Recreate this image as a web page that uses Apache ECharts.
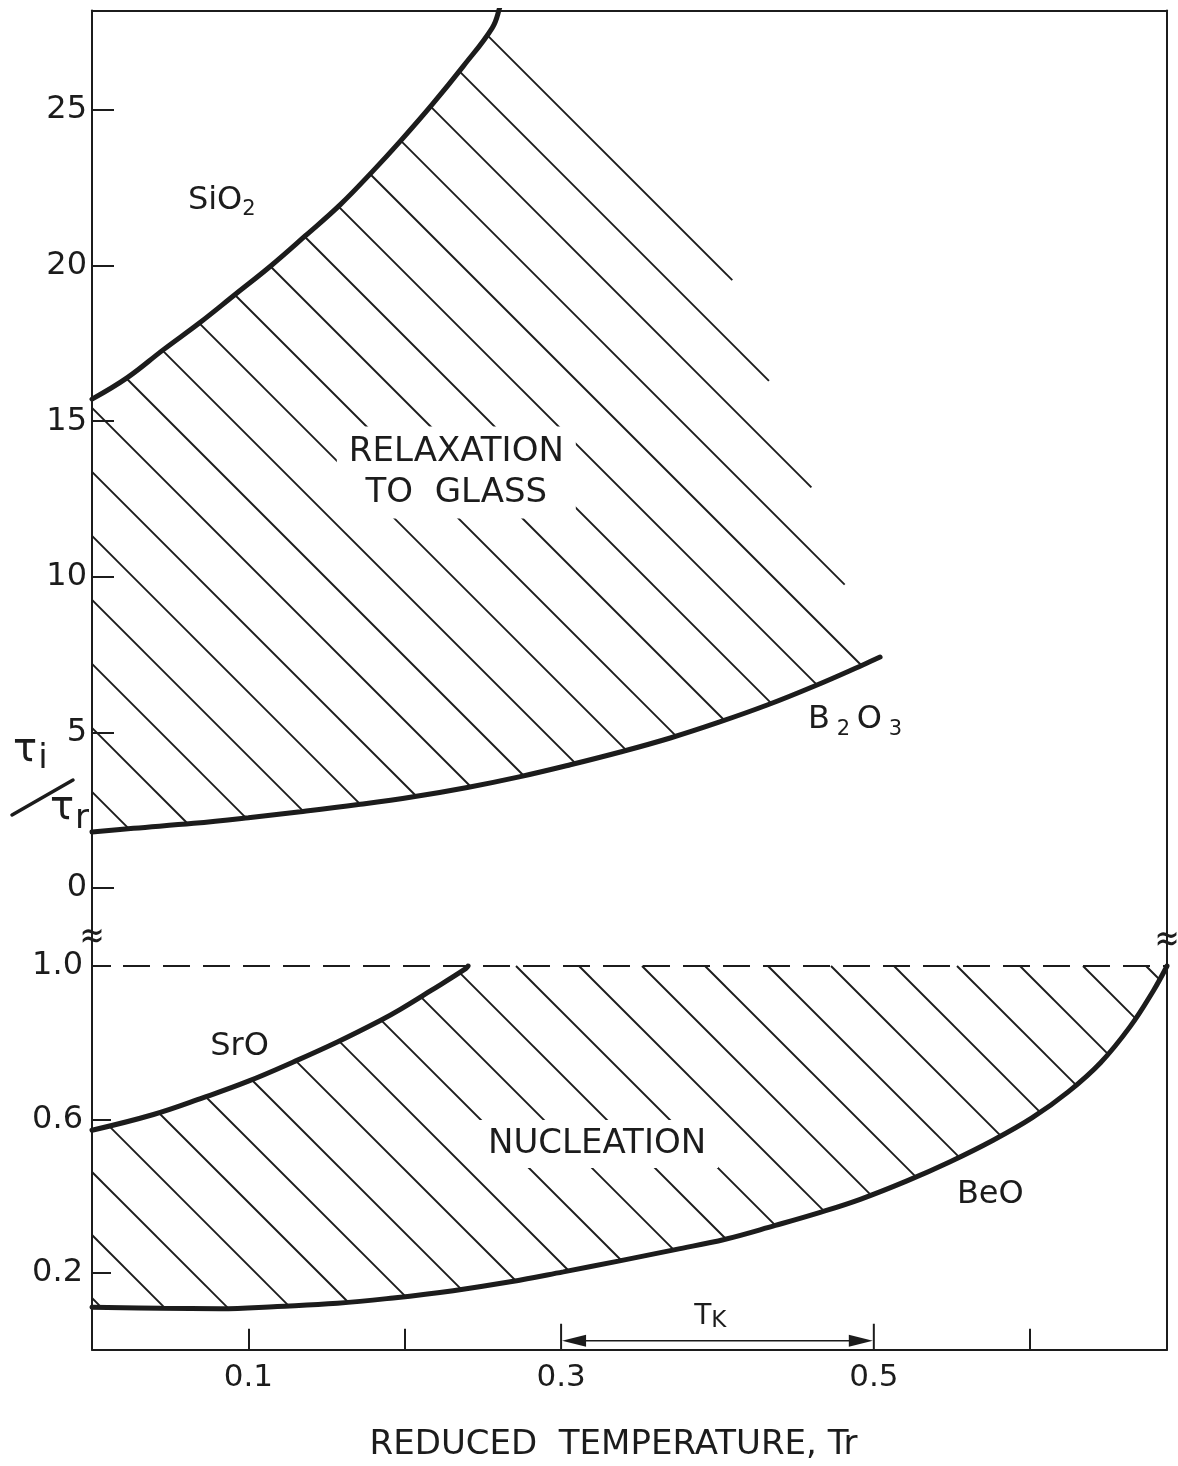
<!DOCTYPE html>
<html><head><meta charset="utf-8">
<script src="https://cdn.jsdelivr.net/npm/echarts@6/dist/echarts.min.js"></script>
<style>html,body{margin:0;padding:0;background:#fff}#c{width:1178px;height:1466px}</style>
</head><body><div id="c"></div>
<script>
// ---------- values ----------
// upper panel: tau_i / tau_r vs reduced temperature
const sio2 = [[0,15.71],[0.0226,16.40],[0.0457,17.30],[0.0693,18.18],[0.0917,19.08],[0.1141,19.98],[0.1365,20.96],[0.1588,21.96],[0.1793,23.02],[0.1972,24.00],[0.2176,25.18],[0.2375,26.41],[0.256,27.64],[0.2605,28.25],[0.263,28.8]];
const b2o3 = [[0,1.80],[0.0265,1.92],[0.065,2.08],[0.100,2.26],[0.1333,2.45],[0.1703,2.68],[0.2055,2.93],[0.24,3.23],[0.2739,3.58],[0.3059,3.96],[0.3379,4.37],[0.3698,4.82],[0.4005,5.32],[0.4318,5.88],[0.4625,6.50],[0.4926,7.16],[0.504,7.42]];
// where the hatching of the "relaxation to glass" field stops on the right
const glassHatchEnd = [[0.4069,19.89],[0.4306,16.59],[0.4606,12.81],[0.4817,9.70]];
// lower panel
const sro = [[0,0.572],[0.0393,0.613],[0.0712,0.657],[0.100,0.700],[0.1288,0.750],[0.1569,0.802],[0.1844,0.858],[0.1972,0.887],[0.2164,0.935],[0.239,0.993],[0.2405,1.0]];
const beo = [[0,0.111],[0.044,0.108],[0.082,0.107],[0.1185,0.113],[0.157,0.121],[0.1926,0.135],[0.231,0.154],[0.2675,0.177],[0.3014,0.203],[0.3366,0.231],[0.373,0.261],[0.405,0.288],[0.437,0.324],[0.4657,0.358],[0.4913,0.392],[0.5212,0.440],[0.5488,0.490],[0.5763,0.546],[0.6011,0.604],[0.6243,0.672],[0.645,0.748],[0.6639,0.842],[0.6787,0.935],[0.6875,1.0]];
const tauLimit = 1.0;
const tkRange = [0.3, 0.5];
const xMax = 0.6875;
const xTickValues = [0.1, 0.2, 0.6];
const xLabelValues = [0.1, 0.3, 0.5];
const upperTickValues = [0, 5, 10, 15, 20, 25];
const lowerTickValues = [0.2, 0.6, 1.0];
// a point each hatch family passes through
const glassHatchAnchor = [0, 13.37];
const nucleationHatchAnchor = [0, 0.299];

// ---------- styling ----------
const FONT = 'DejaVu Sans';
const INK = '#1c1c1c';
const GL = 92, GW = 1075;
const UP_TOP = 10.4, UP_H = 927.4, LO_TOP = 937.8, LO_H = 411.95;

const chart = echarts.init(document.getElementById('c'), null, {renderer: 'canvas', width: 1178, height: 1466});

function hatch(xi, yi, poly, anchor, spacing) {
  return {
    type: 'custom', xAxisIndex: xi, yAxisIndex: yi, z: 1, silent: true, clip: false,
    data: [anchor],
    renderItem: function (params, api) {
      const P = poly.map(p => api.coord(p));
      const a = api.coord(anchor);
      const c0 = a[1] - a[0];
      let lo = Infinity, hi = -Infinity;
      P.forEach(p => { const c = p[1] - p[0]; if (c < lo) lo = c; if (c > hi) hi = c; });
      const children = [];
      for (let k = Math.ceil((lo - c0) / spacing); k <= Math.floor((hi - c0) / spacing); k++) {
        const c = c0 + k * spacing;
        const xs = [];
        for (let i = 0; i < P.length; i++) {
          const p = P[i], q = P[(i + 1) % P.length];
          const fp = p[1] - p[0] - c, fq = q[1] - q[0] - c;
          if ((fp > 0) !== (fq > 0)) { const t = fp / (fp - fq); xs.push(p[0] + t * (q[0] - p[0])); }
        }
        xs.sort((m, n) => m - n);
        for (let j = 0; j + 1 < xs.length; j += 2) {
          children.push({type: 'line', shape: {x1: xs[j], y1: xs[j] + c, x2: xs[j + 1], y2: xs[j + 1] + c},
            style: {stroke: INK, lineWidth: 1.9}});
        }
      }
      return {type: 'group', children: children};
    }
  };
}

function curve(xi, yi, data) {
  return {type: 'line', xAxisIndex: xi, yAxisIndex: yi, data: data, smooth: 0.4,
    showSymbol: false, silent: true, z: 3, lineStyle: {color: INK, width: 5, cap: 'round'}};
}

function notes(xi, yi, items) {
  return {
    type: 'custom', xAxisIndex: xi, yAxisIndex: yi, z: 10, silent: true, clip: false,
    data: items.map(it => it.at),
    renderItem: function (params, api) {
      const it = items[params.dataIndex];
      const p = api.coord(it.at);
      return {type: 'text', x: p[0], y: p[1], z2: 10,
        style: Object.assign({fill: INK, fontSize: 32, fontFamily: FONT, align: 'center', verticalAlign: 'middle'}, it.style)};
    }
  };
}

const upperPoly = [...sio2, ...glassHatchEnd, ...b2o3.slice().reverse()];
const lowerPoly = [...sro, [xMax, tauLimit], ...beo.slice().reverse()];

const lineSt = {color: INK, width: 2};
const subRich = {
  m: {fontSize: 32, lineHeight: 40, fontFamily: FONT, fill: INK, color: INK},
  s: {fontSize: 21, lineHeight: 18, verticalAlign: 'bottom', fontFamily: FONT, fill: INK, color: INK}
};

const option = {
  backgroundColor: '#fff',
  animation: false,
  grid: [
    {left: GL, top: UP_TOP, width: GW, height: UP_H, outerBoundsMode: 'none', containLabel: false},
    {left: GL, top: LO_TOP, width: GW, height: LO_H, outerBoundsMode: 'none', containLabel: false}
  ],
  xAxis: [
    {gridIndex: 0, type: 'value', position: 'top', min: 0, max: xMax,
      axisLine: {show: true, onZero: false, lineStyle: lineSt}, axisTick: {show: false}, axisLabel: {show: false}, splitLine: {show: false}},
    {gridIndex: 1, type: 'value', position: 'bottom', min: 0, max: xMax,
      axisLine: {show: true, onZero: false, lineStyle: lineSt},
      axisTick: {show: true, inside: true, length: 21, customValues: xTickValues, lineStyle: lineSt},
      axisLabel: {show: true, customValues: xLabelValues, formatter: v => Number(v).toFixed(1), margin: 13,
        color: INK, fontSize: 31, fontFamily: FONT},
      splitLine: {show: false},
      name: 'REDUCED  TEMPERATURE, Tr', nameLocation: 'middle', nameGap: 78,
      nameTextStyle: {color: INK, fontSize: 34, fontFamily: FONT, padding: [0, 32, 0, 0]}}
  ],
  yAxis: [
    {gridIndex: 0, type: 'value', position: 'left', min: -1.6, max: 28.2,
      axisLine: {show: true, onZero: false, lineStyle: lineSt},
      axisTick: {show: true, inside: true, length: 22, customValues: upperTickValues, lineStyle: lineSt},
      axisLabel: {show: true, customValues: upperTickValues, margin: 5, color: INK, fontSize: 32, fontFamily: FONT},
      splitLine: {show: false}},
    {gridIndex: 0, type: 'value', position: 'right', min: -1.6, max: 28.2,
      axisLine: {show: true, onZero: false, lineStyle: lineSt}, axisTick: {show: false}, axisLabel: {show: false}, splitLine: {show: false}},
    {gridIndex: 1, type: 'value', position: 'left', min: 0, max: 1.0735,
      axisLine: {show: true, onZero: false, lineStyle: lineSt},
      axisTick: {show: true, inside: true, length: 19, customValues: lowerTickValues, lineStyle: lineSt},
      axisLabel: {show: true, customValues: lowerTickValues, formatter: v => Number(v).toFixed(1), margin: 9,
        color: INK, fontSize: 32, fontFamily: FONT},
      splitLine: {show: false}},
    {gridIndex: 1, type: 'value', position: 'right', min: 0, max: 1.0735,
      axisLine: {show: true, onZero: false, lineStyle: lineSt}, axisTick: {show: false}, axisLabel: {show: false}, splitLine: {show: false}}
  ],
  series: [
    hatch(0, 0, upperPoly, glassHatchAnchor, 64),
    hatch(1, 2, lowerPoly, nucleationHatchAnchor, 63),
    curve(0, 0, sio2),
    curve(0, 0, b2o3),
    curve(1, 2, sro),
    curve(1, 2, beo),
    {type: 'line', xAxisIndex: 1, yAxisIndex: 2, data: [[0, tauLimit], [xMax, tauLimit]], showSymbol: false, silent: true, z: 2,
      lineStyle: {color: INK, width: 2, type: [27, 13], dashOffset: 9}},
    {type: 'custom', xAxisIndex: 1, yAxisIndex: 2, z: 4, silent: true, clip: false, data: [[tkRange[0], 0]],
      renderItem: function (params, api) {
        const a = api.coord([tkRange[0], 0]), b = api.coord([tkRange[1], 0]);
        const yl = a[1] - 9, bar = 26, ah = 25, aw = 6;
        return {type: 'group', children: [
          {type: 'line', shape: {x1: a[0], y1: a[1], x2: a[0], y2: a[1] - bar}, style: {stroke: INK, lineWidth: 2}},
          {type: 'line', shape: {x1: b[0], y1: b[1], x2: b[0], y2: b[1] - bar}, style: {stroke: INK, lineWidth: 2}},
          {type: 'line', shape: {x1: a[0] + ah - 2, y1: yl, x2: b[0] - ah + 2, y2: yl}, style: {stroke: INK, lineWidth: 1.7}},
          {type: 'polygon', shape: {points: [[a[0] + 1, yl], [a[0] + ah, yl - aw], [a[0] + ah, yl + aw]]}, style: {fill: INK}},
          {type: 'polygon', shape: {points: [[b[0] - 1, yl], [b[0] - ah, yl - aw], [b[0] - ah, yl + aw]]}, style: {fill: INK}}
        ]};
      }},
    notes(0, 0, [
      {at: [0.083, 22.1], style: {text: '{m|SiO}{s|2}', rich: subRich}},
      {at: [0.233, 13.35], style: {text: 'RELAXATION\nTO  GLASS', fontSize: 34, lineHeight: 41,
        backgroundColor: '#fff', padding: [6, 12, 4, 12]}},
      {at: [0.488, 5.40], style: {text: '{m|B}{s| 2 }{m|O}{s| 3}', rich: subRich}}
    ]),
    notes(1, 2, [
      {at: [0.0944, 0.789], style: {text: 'SrO'}},
      {at: [0.323, 0.536], style: {text: 'NUCLEATION', fontSize: 34, backgroundColor: '#fff', padding: [8, 12, 6, 12]}},
      {at: [0.5745, 0.403], style: {text: 'BeO'}},
      {at: [0.3954, 0.0853], style: {text: '{m|T}{s|K}', rich: {
        m: {fontSize: 28, lineHeight: 32, fontFamily: FONT, fill: INK, color: INK},
        s: {fontSize: 23, lineHeight: 10, verticalAlign: 'bottom', fontFamily: FONT, fill: INK, color: INK}}}}
    ])
  ],
  graphic: [
    {type: 'text', x: GL - 67, y: 751, style: {text: 'τ', fontSize: 40, fontFamily: FONT, fill: INK, align: 'center', verticalAlign: 'middle'}},
    {type: 'text', x: GL - 49, y: 759, style: {text: 'i', fontSize: 34, fontFamily: FONT, fill: INK, align: 'center', verticalAlign: 'middle'}},
    {type: 'line', shape: {x1: GL - 80, y1: 815, x2: GL - 19, y2: 780}, style: {stroke: INK, lineWidth: 3.5, lineCap: 'round'}},
    {type: 'text', x: GL - 30, y: 809, style: {text: 'τ', fontSize: 40, fontFamily: FONT, fill: INK, align: 'center', verticalAlign: 'middle'}},
    {type: 'text', x: GL - 10, y: 819, style: {text: 'r', fontSize: 34, fontFamily: FONT, fill: INK, align: 'center', verticalAlign: 'middle'}},
    {type: 'text', x: GL, y: LO_TOP, scaleY: 1.3, style: {text: '≈', fontSize: 30, fontFamily: FONT, fill: INK, align: 'center', verticalAlign: 'middle'}},
    {type: 'text', x: GL + GW, y: LO_TOP + 3, scaleY: 1.3, style: {text: '≈', fontSize: 30, fontFamily: FONT, fill: INK, align: 'center', verticalAlign: 'middle'}}
  ]
};
chart.setOption(option);
</script>
</body></html>
